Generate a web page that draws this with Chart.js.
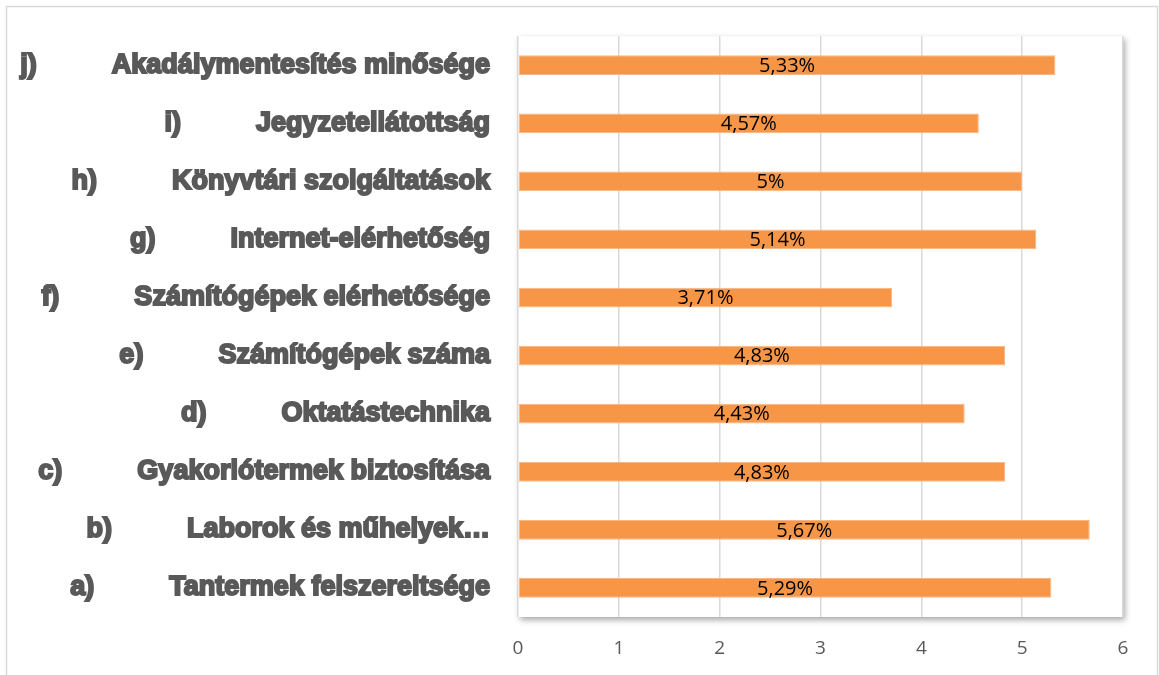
<!DOCTYPE html>
<html>
<head>
<meta charset="utf-8">
<script src="https://cdn.jsdelivr.net/npm/chart.js@4.4.0/dist/chart.umd.min.js"></script>
<style>
html,body{margin:0;padding:0;background:#fff;}
#wrap{width:1159px;height:675px;position:relative;}
</style>
</head>
<body>
<div id="wrap"><canvas id="c" width="1159" height="675"></canvas></div>
<script>
const letters = ["j)","i)","h)","g)","f)","e)","d)","c)","b)","a)"];
const categories = ["Akadálymentesítés minősége","Jegyzetellátottság","Könyvtári szolgáltatások","Internet-elérhetőség","Számítógépek elérhetősége","Számítógépek száma","Oktatástechnika","Gyakorlótermek biztosítása","Laborok és műhelyek…","Tantermek felszereltsége"];
const values = [5.33,4.57,5,5.14,3.71,4.83,4.43,4.83,5.67,5.29];
const xTicks = [0,1,2,3,4,5,6];

const labels = categories.map((c,i)=>letters[i]+"          "+c);

const frame = {
  id:'frame',
  beforeDraw(chart){
    const ctx=chart.ctx, a=chart.chartArea;
    ctx.save();
    ctx.fillStyle='#fff';ctx.fillRect(0,0,chart.width,chart.height);
    ctx.strokeStyle='#d9d9d9';ctx.lineWidth=1.5;
    ctx.strokeRect(6.5,6.5,chart.width-8,chart.height-4);
    ctx.shadowColor='rgba(0,0,0,0.35)';ctx.shadowBlur=6;ctx.shadowOffsetX=2;ctx.shadowOffsetY=3;
    ctx.fillStyle='#fff';ctx.fillRect(a.left,a.top,a.right-a.left,a.bottom-a.top);
    ctx.restore();
  }
};
const valueLabels = {
  id:'valueLabels',
  afterDatasetsDraw(chart){
    const ctx=chart.ctx;
    const meta=chart.getDatasetMeta(0);
    ctx.save();
    ctx.font='20px "Open Sans"';
    ctx.fillStyle='#000';ctx.textAlign='center';ctx.textBaseline='middle';
    meta.data.forEach((el,i)=>{
      const v=values[i];
      const t=String(v).replace('.',',')+'%';
      ctx.fillText(t,(el.x+el.base)/2,el.y+1);
    });
    ctx.restore();
  }
};

new Chart(document.getElementById('c'),{
  type:'bar',
  data:{labels:labels,datasets:[{data:values,backgroundColor:'#F79646',borderColor:'#FAB585',borderWidth:1,borderSkipped:false,categoryPercentage:1,barPercentage:0.34}]},
  options:{
    indexAxis:'y',responsive:false,animation:false,
    layout:{padding:{top:36,right:36,bottom:10,left:0}},
    plugins:{legend:{display:false},tooltip:{enabled:false}},
    scales:{
      x:{min:0,max:6,afterBuildTicks(s){s.ticks=xTicks.map(v=>({value:v}));},
        grid:{color:'#d9d9d9',lineWidth:1.5,drawTicks:false},border:{display:false},
        ticks:{color:'#595959',font:{family:'"Open Sans"',size:19},padding:20},
        afterFit(s){s.height=48;}},
      y:{grid:{display:false},border:{display:false},
        ticks:{color:'#595959',font:{family:'"Liberation Sans"',size:27,weight:'bold'},textStrokeColor:'#595959',textStrokeWidth:2,padding:20,autoSkip:false},
        afterFit(s){s.width=518;}}
    }
  },
  plugins:[frame,valueLabels]
});
</script>
</body>
</html>
